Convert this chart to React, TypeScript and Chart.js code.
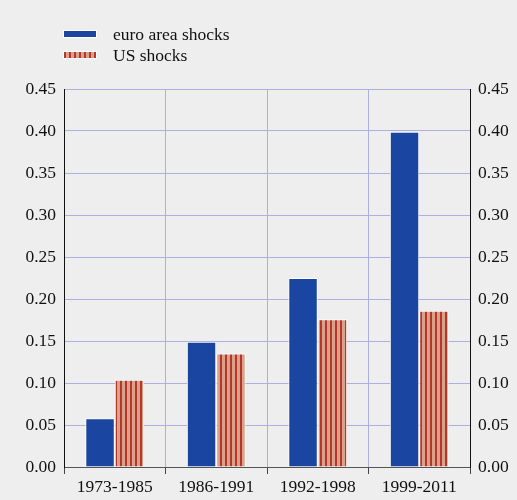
import React, { useEffect, useRef } from "react";
import { Chart, registerables } from "chart.js";

Chart.register(...registerables);

const categories = ["1973-1985", "1986-1991", "1992-1998", "1999-2011"];
const euroShocks = [0.058, 0.149, 0.225, 0.399];
const usShocks = [0.104, 0.135, 0.176, 0.186];
const seriesNames = ["euro area shocks", "US shocks"];
const yMin = 0;
const yMax = 0.45;
const yStep = 0.05;

const BLUE = "#1a45a0";
const SALMON = "#d9a18b";
const STRIPE = "#b5372a";
const GRID = "#abb0e0";
const TEXT = "#111111";
const FONT = "'Liberation Serif', 'Times New Roman', serif";

function makePattern(): CanvasPattern | string {
  const c = document.createElement("canvas");
  c.width = 5;
  c.height = 4;
  const ctx = c.getContext("2d");
  if (!ctx) return SALMON;
  ctx.fillStyle = SALMON;
  ctx.fillRect(0, 0, 5, 4);
  ctx.fillStyle = STRIPE;
  ctx.fillRect(0, 0, 2, 4);
  return ctx.createPattern(c, "repeat") || SALMON;
}

export default function App() {
  const ref = useRef<HTMLCanvasElement | null>(null);

  useEffect(() => {
    if (!ref.current) return;
    const pattern = makePattern();
    const tickFont = { family: FONT, size: 17.5 };
    const chart = new Chart(ref.current, {
      type: "bar",
      data: {
        labels: categories,
        datasets: [
          {
            label: seriesNames[0],
            data: euroShocks,
            backgroundColor: BLUE,
            borderColor: "#ffffff",
            borderWidth: 1,
            categoryPercentage: 0.58,
            barPercentage: 1,
          },
          {
            label: seriesNames[1],
            data: usShocks,
            backgroundColor: pattern as any,
            borderColor: "#ffffff",
            borderWidth: 1,
            categoryPercentage: 0.58,
            barPercentage: 1,
          },
        ],
      },
      options: {
        responsive: false,
        animation: false,
        layout: { padding: { top: 89, left: 0, right: 0, bottom: 0 } },
        plugins: {
          legend: { display: false },
          tooltip: { enabled: false },
        },
        scales: {
          x: {
            offset: true,
            grid: {
              offset: true,
              color: GRID,
              tickColor: "#444",
              tickLength: 7,
              drawTicks: true,
            },
            border: { color: "#555", width: 1 },
            ticks: { font: tickFont, color: TEXT, padding: 3 },
            afterFit: (s: any) => {
              s.height = 33;
            },
          },
          y: {
            position: "left",
            min: yMin,
            max: yMax,
            grid: { color: GRID, drawTicks: false },
            border: { color: "#111", width: 1 },
            ticks: {
              stepSize: yStep,
              font: tickFont,
              color: TEXT,
              padding: 8,
              callback: (v: any) => Number(v).toFixed(2),
            },
            afterFit: (s: any) => {
              s.width = 64;
            },
          },
          y2: {
            position: "right",
            min: yMin,
            max: yMax,
            grid: { display: false, drawTicks: false },
            border: { color: "#111", width: 1 },
            ticks: {
              stepSize: yStep,
              font: tickFont,
              color: TEXT,
              padding: 8,
              callback: (v: any) => Number(v).toFixed(2),
            },
            afterFit: (s: any) => {
              s.width = 47;
            },
          },
        },
      },
    });
    return () => chart.destroy();
  }, []);

  const stripeBg = `repeating-linear-gradient(90deg, ${STRIPE} 0px, ${STRIPE} 2px, ${SALMON} 2px, ${SALMON} 5px)`;
  const legendItem = (bg: string, label: string, top: number) => (
    <div
      style={{
        position: "absolute",
        left: 63,
        top,
        display: "flex",
        alignItems: "center",
        height: 20,
      }}
    >
      <div
        style={{
          width: 34,
          height: 8,
          background: bg,
          border: "1px solid #fff",
          boxSizing: "border-box",
        }}
      />
      <span
        style={{
          marginLeft: 16,
          fontFamily: FONT,
          fontSize: 17.5,
          color: TEXT,
          lineHeight: "20px",
        }}
      >
        {label}
      </span>
    </div>
  );

  return (
    <div
      style={{
        position: "absolute",
        left: 0,
        top: 0,
        width: 517,
        height: 500,
        background: "#eeeeee",
        overflow: "hidden",
      }}
    >
      <canvas ref={ref} width={517} height={500} style={{ position: "absolute", left: 0, top: 0 }} />
      {legendItem(BLUE, seriesNames[0], 24)}
      {legendItem(stripeBg, seriesNames[1], 45)}
    </div>
  );
}
